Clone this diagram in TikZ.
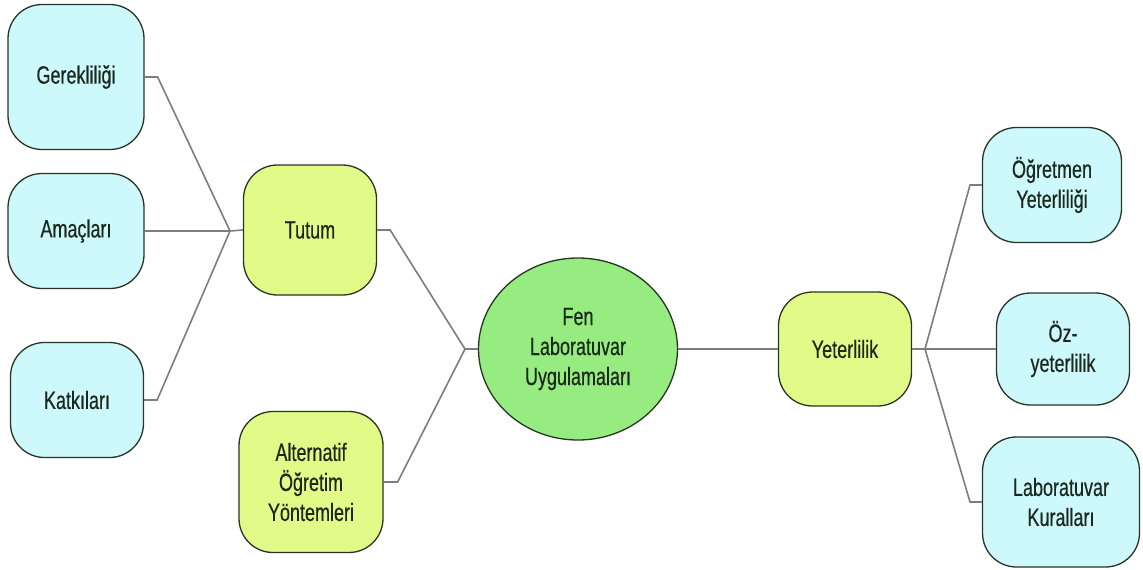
\documentclass[tikz,border=0pt]{standalone}
\usepackage{fontspec}
\setmainfont[FakeStretch=0.72, FakeBold=0.4]{Liberation Sans}
\usetikzlibrary{shapes.geometric}
\definecolor{leafcyan}{RGB}{205,248,252}
\definecolor{branchlime}{RGB}{226,250,135}
\definecolor{rootgreen}{RGB}{150,236,128}
\definecolor{edgeline}{RGB}{40,52,36}
\definecolor{linkgray}{RGB}{125,125,125}
\definecolor{inktext}{RGB}{28,40,28}
\begin{document}
\begin{tikzpicture}[x=1pt, y=-1pt,
    box/.style={draw=edgeline, line width=1.3pt, rounded corners=34pt, align=center,
        text=inktext, font=\fontsize{25}{30}\selectfont, inner sep=0pt},
    leaf/.style={box, fill=leafcyan},
    branch/.style={box, fill=branchlime},
    link/.style={draw=linkgray, line width=1.6pt}]

    \useasboundingbox (0,0) rectangle (1143,570);

    % Nodo central
    \node (flu) [draw=edgeline, line width=1.3pt, fill=rootgreen, ellipse, minimum width=199pt,
        minimum height=182pt, align=center, inner sep=0pt, text=inktext,
        font=\fontsize{25}{30}\selectfont] at (578,349) {Fen\\Laboratuvar\\Uygulamaları};

    % Nodos intermediários
    \node (tutum) [branch, minimum width=133pt, minimum height=130pt] at (310,230) {Tutum};
    \node (aoy) [branch, minimum width=144pt, minimum height=141pt] at (311,482) {Alternatif\\Öğretim\\Yöntemleri};
    \node (yet) [branch, minimum width=133pt, minimum height=114pt] at (845,349) {Yeterlilik};

    % Nodos folha
    \node (ger) [leaf, minimum width=136pt, minimum height=145pt] at (76,77) {Gerekliliği};
    \node (ama) [leaf, minimum width=136pt, minimum height=115pt] at (76,231) {Amaçları};
    \node (kat) [leaf, minimum width=133pt, minimum height=115pt] at (77,400) {Katkıları};
    \node (oy) [leaf, minimum width=139pt, minimum height=115pt] at (1052,185) {Öğretmen\\Yeterliliği};
    \node (oz) [leaf, minimum width=133pt, minimum height=112pt] at (1063,349) {Öz-\\yeterlilik};
    \node (lk) [leaf, minimum width=157pt, minimum height=130pt] at (1061,502) {Laboratuvar\\Kuralları};

    % Pontos de junção
    \coordinate (jt) at (230,231);
    \coordinate (jf) at (465,349);
    \coordinate (jy) at (925,349);

    % Ligações da esquerda
    \path[link] (ger.east) -- ++(13,0) -- (jt) -- (tutum.west);
    \path[link] (ama.east) -- (jt);
    \path[link] (kat.east) -- ++(13,0) -- (jt);
    \path[link] (tutum.east) -- ++(13,0) -- (jf) -- (flu.west);
    \path[link] (aoy.east) -- ++(14,0) -- (jf);

    % Ligações da direita
    \path[link] (flu.east) -- (yet.west);
    \path[link] (yet.east) -- (jy) -- (oz.west);
    \path[link] (jy) -- (970,185) -- (oy.west);
    \path[link] (jy) -- (970,502) -- (lk.west);

\end{tikzpicture}
\end{document}
